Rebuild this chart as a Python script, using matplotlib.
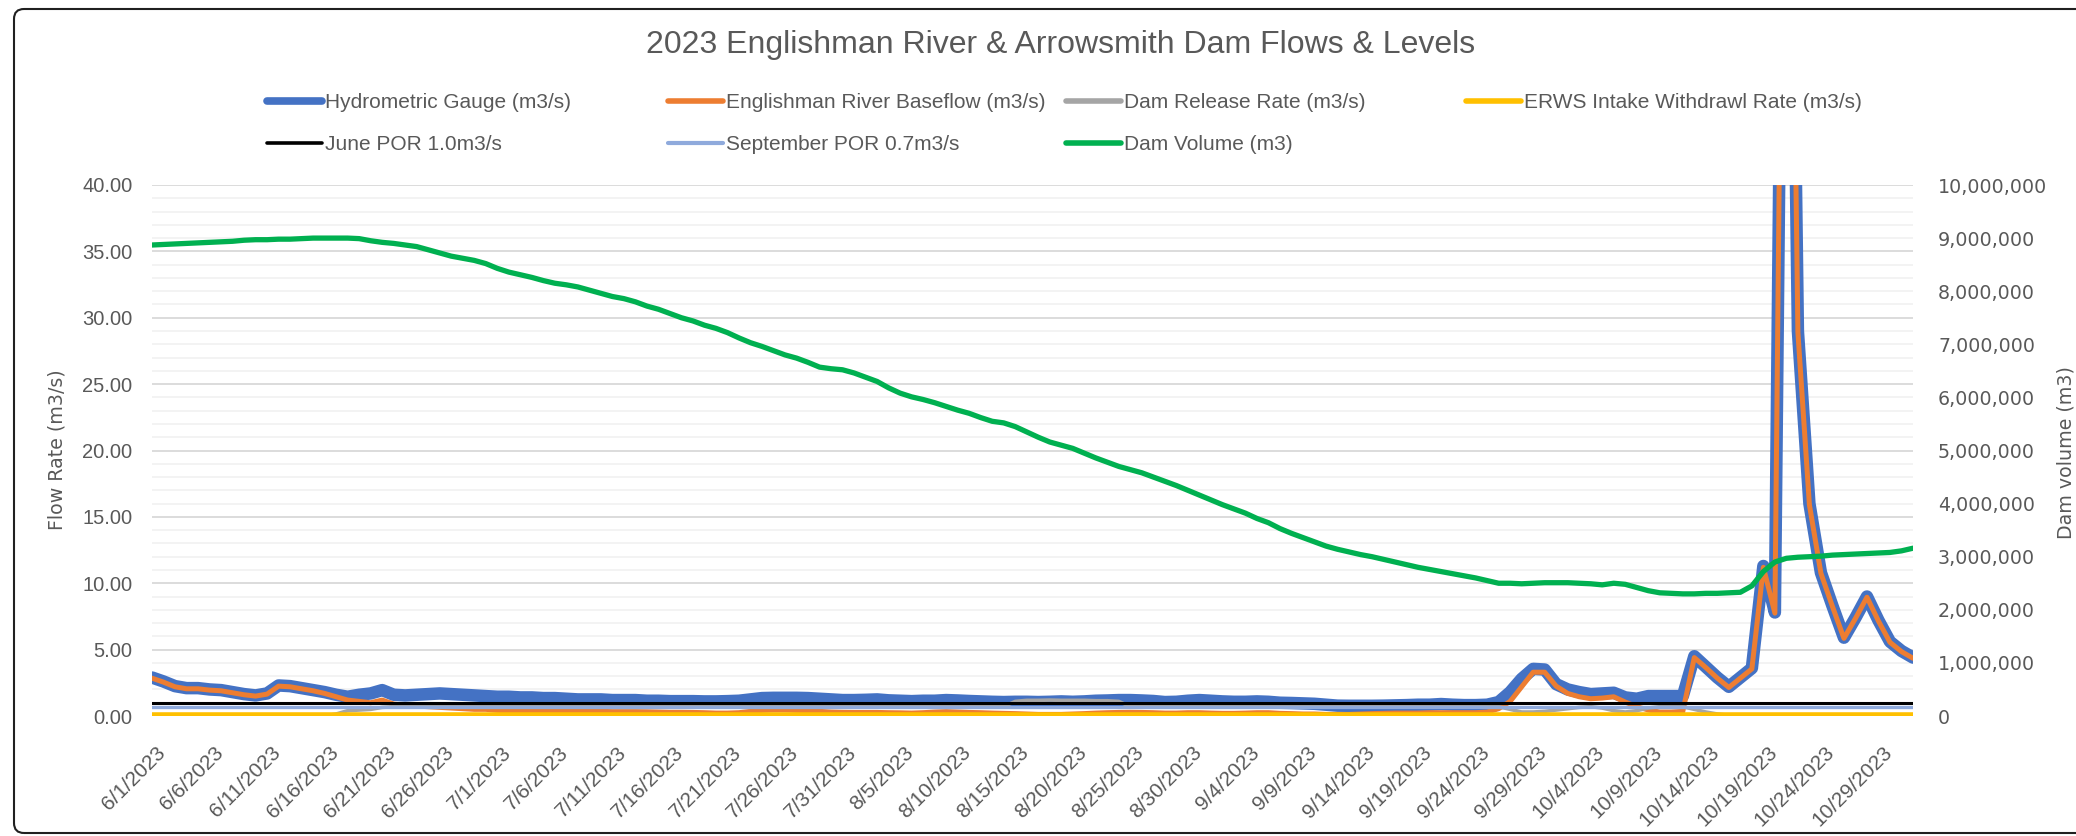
import matplotlib
matplotlib.use("Agg")
import matplotlib.pyplot as plt
from matplotlib.lines import Line2D
from matplotlib.patches import FancyBboxPatch
from matplotlib.transforms import IdentityTransform, ScaledTranslation
from matplotlib.ticker import FuncFormatter, MultipleLocator
import pandas as pd

# daily data, 6/1/2023 .. 11/1/2023
dates = pd.date_range("2023-06-01", "2023-11-01", freq="D")

gauge = [2.90, 2.60, 2.25, 2.10, 2.10, 2.00, 1.95, 1.80, 1.65, 1.55,
         1.70, 2.30, 2.25, 2.10, 1.95, 1.80, 1.60, 1.45, 1.60, 1.70,
         1.95, 1.60, 1.55, 1.60, 1.65, 1.70, 1.65, 1.60, 1.55, 1.50,
         1.45, 1.45, 1.40, 1.40, 1.35, 1.35, 1.30, 1.25, 1.25,
         1.25, 1.20, 1.20, 1.20, 1.15, 1.15, 1.12, 1.12, 1.12, 1.10,
         1.10, 1.12, 1.15, 1.25, 1.35, 1.37, 1.37, 1.37, 1.35, 1.30,
         1.25, 1.20, 1.20, 1.22, 1.25,
         1.18, 1.15, 1.12, 1.15,
         1.15, 1.20, 1.17, 1.13, 1.10, 1.07, 1.05, 1.07, 1.07, 1.05,
         1.07, 1.10, 1.07, 1.10, 1.15, 1.17, 1.20, 1.20, 1.17, 1.13,
         1.05, 1.07, 1.15, 1.20, 1.15, 1.10, 1.07, 1.07, 1.10, 1.07,
         1.00, 0.98, 0.95, 0.92, 0.85, 0.78, 0.77, 0.77, 0.77,
         0.78, 0.80, 0.82, 0.85, 0.85, 0.90, 0.85, 0.82, 0.82, 0.85,
         1.05, 1.80, 2.80, 3.55, 3.50, 2.40, 2.00, 1.80, 1.65, 1.70,
         1.75, 1.40, 1.30, 1.50, 1.50, 1.50, 1.50,
         4.50, 3.70, 2.90, 2.20, 2.90, 3.60, 11.3, 7.80, 95.0, 29.0,
         16.0, 10.8, 8.30, 5.90, 7.40, 9.00, 7.20, 5.60, 4.90, 4.40]

baseflow = [2.85, 2.55, 2.20, 2.05, 2.05, 1.95, 1.90, 1.75, 1.60, 1.50,
            1.65, 2.25, 2.20, 2.05, 1.90, 1.70, 1.45, 1.20, 1.10, 1.00,
            1.20, 0.90, 0.80, 0.75, 0.70, 0.65, 0.60, 0.55, 0.50, 0.50,
            0.42, 0.40, 0.40, 0.38, 0.38, 0.36, 0.36, 0.35, 0.35,
            0.35, 0.33, 0.33, 0.33, 0.32, 0.30, 0.28, 0.28, 0.27, 0.25,
            0.22, 0.22, 0.25, 0.35, 0.42, 0.45, 0.45, 0.42, 0.40, 0.35,
            0.30, 0.28, 0.27, 0.27, 0.27,
            0.25, 0.24, 0.22, 0.25,
            0.30, 0.33, 0.30, 0.27, 0.25, 0.22, 0.20, 0.18, 0.15, 0.12,
            0.12, 0.12, 0.15, 0.18, 0.22, 0.25, 0.27, 0.28, 0.27, 0.25,
            0.22, 0.22, 0.25, 0.25, 0.22, 0.20, 0.20, 0.22, 0.25, 0.25,
            0.20, 0.18, 0.15, 0.15, 0.12, 0.12, 0.12, 0.15, 0.18,
            0.20, 0.22, 0.22, 0.22, 0.25, 0.25, 0.25, 0.25, 0.25, 0.30,
            0.55, 1.10, 2.20, 3.30, 3.30, 2.25, 1.70, 1.45, 1.30, 1.35,
            1.45, 1.05, 0.70, 0.45, 0.30, 0.30, 0.35,
            4.40, 3.65, 2.85, 2.15, 2.85, 3.55, 11.2, 7.75, 94.9, 28.9,
            15.9, 10.75, 8.25, 5.85, 7.35, 8.95, 7.15, 5.55, 4.85, 4.35]

release = [0.00, 0.00, 0.00, 0.00, 0.00, 0.00, 0.00, 0.00, 0.00, 0.00,
           0.00, 0.00, 0.00, 0.00, 0.00, 0.00, 0.15, 0.40, 0.45, 0.50,
           0.65, 0.70, 0.70, 0.70, 0.70, 0.70, 0.70, 0.70, 0.70, 0.70,
           0.70, 0.70, 0.70, 0.70, 0.70, 0.70, 0.70, 0.70, 0.70,
           0.70, 0.70, 0.70, 0.70, 0.70, 0.70, 0.70, 0.70, 0.70, 0.70,
           0.70, 0.70, 0.70, 0.70, 0.70, 0.70, 0.70, 0.70, 0.70, 0.70,
           0.70, 0.70, 0.70, 0.70, 0.70,
           0.70, 0.70, 0.70, 0.70,
           0.70, 0.70, 0.70, 0.70, 0.70, 0.70, 0.70, 1.10, 1.18, 1.18,
           1.20, 1.18, 1.18, 1.18, 1.15, 1.15, 1.10, 0.70, 0.70, 0.70,
           0.70, 0.70, 0.70, 0.70, 0.70, 0.70, 0.70, 0.70, 0.70, 0.70,
           0.70, 0.70, 0.70, 0.70, 0.70, 0.70, 0.70, 0.70, 0.70,
           0.70, 0.70, 0.70, 0.70, 0.70, 0.70, 0.70, 0.70, 0.70, 0.70,
           0.70, 0.50, 0.30, 0.30, 0.35, 0.45, 0.55, 0.65, 0.70, 0.60,
           0.40, 0.30, 0.40, 0.60, 0.70, 0.70, 0.70,
           0.50, 0.30, 0.15, 0.05, 0.00, 0.00, 0.00, 0.00, 0.00, 0.00,
           0.00, 0.00, 0.00, 0.00, 0.00, 0.00, 0.00, 0.00, 0.00, 0.00]

volume = [8.87, 8.88, 8.89, 8.90, 8.91, 8.92, 8.93, 8.94, 8.96, 8.97,
          8.97, 8.98, 8.98, 8.99, 9.00, 9.00, 9.00, 9.00, 8.99, 8.95,
          8.92, 8.90, 8.87, 8.84, 8.78, 8.72, 8.66, 8.62, 8.58, 8.52,
          8.43, 8.36, 8.31, 8.26, 8.20, 8.15, 8.12, 8.08, 8.02,
          7.96, 7.90, 7.86, 7.80, 7.72, 7.66, 7.58, 7.50, 7.44, 7.36,
          7.30, 7.22, 7.12, 7.03, 6.96, 6.88, 6.80, 6.74, 6.66, 6.57,
          6.54, 6.52, 6.46, 6.38, 6.30,
          6.18, 6.08, 6.01, 5.96,
          5.90, 5.83, 5.76, 5.70, 5.62, 5.55, 5.52, 5.45, 5.35, 5.25,
          5.16, 5.10, 5.04, 4.95, 4.86, 4.78, 4.70, 4.64, 4.58, 4.50,
          4.42, 4.34, 4.25, 4.16, 4.07, 3.98, 3.90, 3.82, 3.72, 3.64,
          3.53, 3.44, 3.36, 3.28, 3.20, 3.14, 3.09, 3.04, 3.00,
          2.95, 2.90, 2.85, 2.80, 2.76, 2.72, 2.68, 2.64, 2.60, 2.55,
          2.50, 2.50, 2.49, 2.50, 2.51, 2.51, 2.51, 2.50, 2.49, 2.47,
          2.50, 2.48, 2.42, 2.36, 2.32, 2.31, 2.30,
          2.30, 2.31, 2.31, 2.32, 2.33, 2.45, 2.72, 2.90, 2.97, 2.99,
          3.00, 3.01, 3.03, 3.04, 3.05, 3.06, 3.07, 3.08, 3.11, 3.16]
volume_m3 = [v * 1e6 for v in volume]

intake_rate = 0.1
june_por = 1.0
sept_por = 0.7

assert len(gauge) == len(baseflow) == len(release) == len(volume) == len(dates)

grey = "#595959"
W, H = 2076, 836
fig = plt.figure(figsize=(W / 100, H / 100), dpi=100)
ax = fig.add_axes([152 / W, 120 / H, (1913 - 152) / W, (716 - 185) / H])
ax2 = ax.twinx()

kw = dict(solid_joinstyle="round", solid_capstyle="round")
h_gauge, = ax.plot(dates, gauge, color="#4472C4", lw=9.0, zorder=2, **kw)
h_base, = ax.plot(dates, baseflow, color="#ED7D31", lw=3.6, zorder=3, **kw)
h_rel, = ax.plot(dates, release, color="#A5A5A5", lw=2.6, zorder=4, **kw)
h_int, = ax.plot(dates, [intake_rate] * len(dates), color="#FFC000", lw=4.0, zorder=5)
h_june, = ax.plot(dates, [june_por] * len(dates), color="black", lw=2.2, zorder=6)
h_sept, = ax.plot(dates, [sept_por] * len(dates), color="#8FAADC", lw=2.4, zorder=7)
h_vol, = ax2.plot(dates, volume_m3, color="#00B050", lw=3.8, **kw)

ax.set_xlim(dates[0], dates[-1])
ax.set_ylim(0, 40)
ax2.set_ylim(0, 10e6)
ax.yaxis.set_major_locator(MultipleLocator(5))
ax.yaxis.set_minor_locator(MultipleLocator(1))
ax2.yaxis.set_major_locator(MultipleLocator(1e6))
ax.grid(True, which="major", axis="y", color="#D9D9D9", lw=1.3, zorder=0)
ax.grid(True, which="minor", axis="y", color="#F2F2F2", lw=1.3, zorder=0)
ax.set_axisbelow(True)
for a in (ax, ax2):
    for s in a.spines.values():
        s.set_visible(False)

ax.yaxis.set_major_formatter(FuncFormatter(lambda v, p: f"{v:.2f}"))
ax2.yaxis.set_major_formatter(FuncFormatter(lambda v, p: f"{v:,.0f}"))
ax.tick_params(axis="y", which="both", length=0, pad=14, labelsize=14.5, labelcolor=grey)
ax2.tick_params(axis="y", length=0, pad=18, labelsize=13.7, labelcolor=grey)
for t in ax2.get_yticklabels():
    t.set_family("DejaVu Sans")
for t in ax.get_yticklabels():
    t.set_family("Liberation Sans")

tick_dates = dates[::5]
ax.set_xticks(tick_dates)
ax.set_xticklabels([f"{d.month}/{d.day}/{d.year}" for d in tick_dates],
                   rotation=45, ha="right", rotation_mode="anchor",
                   fontsize=15, color=grey, family="Liberation Sans")
ax.tick_params(axis="x", length=0, pad=12)
shift = ScaledTranslation(4 / 100, -10 / 100, fig.dpi_scale_trans)
for t in ax.get_xticklabels():
    t.set_transform(t.get_transform() + shift)

fig.text(57 / W, 1 - 450 / H, "Flow Rate (m3/s)", rotation=90, ha="center", va="center",
         fontsize=13.7, color=grey, family="DejaVu Sans")
fig.text(2066 / W, 1 - 453 / H, "Dam volume (m3)", rotation=90, ha="center", va="center",
         fontsize=13.7, color=grey, family="DejaVu Sans")

fig.text(1061 / W, 1 - 45 / H, "2023 Englishman River & Arrowsmith Dam Flows & Levels",
         ha="center", va="center", fontsize=23, color=grey, family="Liberation Sans")

entries = [
    (h_gauge, "Hydrometric Gauge (m3/s)", 267, 103, 5.5),
    (h_base, "Englishman River Baseflow (m3/s)", 668, 103, 4.0),
    (h_rel, "Dam Release Rate (m3/s)", 1066, 103, 4.0),
    (h_int, "ERWS Intake Withdrawl Rate (m3/s)", 1466, 103, 4.0),
    (h_june, "June POR 1.0m3/s", 267, 145, 2.6),
    (h_sept, "September POR 0.7m3/s", 668, 145, 3.0),
    (h_vol, "Dam Volume (m3)", 1066, 145, 4.0),
]
for h, label, x, y, lw in entries:
    proxy = Line2D([], [], color=h.get_color(), lw=lw, solid_capstyle="round")
    leg = fig.legend(handles=[proxy], labels=[label], loc="center left",
                     bbox_to_anchor=(x / W, 1 - y / H), frameon=False,
                     borderpad=0, borderaxespad=0, handlelength=2.65,
                     handletextpad=0.15, prop={"family": "Liberation Sans", "size": 15})
    for t in leg.get_texts():
        t.set_color(grey)

border = FancyBboxPatch((14, 3), W + 20, 824, boxstyle="round,pad=0,rounding_size=10",
                        transform=IdentityTransform(), fill=False, ec="#202020", lw=1.5)
fig.patches.append(border)

fig.savefig("out.png", dpi=100)
